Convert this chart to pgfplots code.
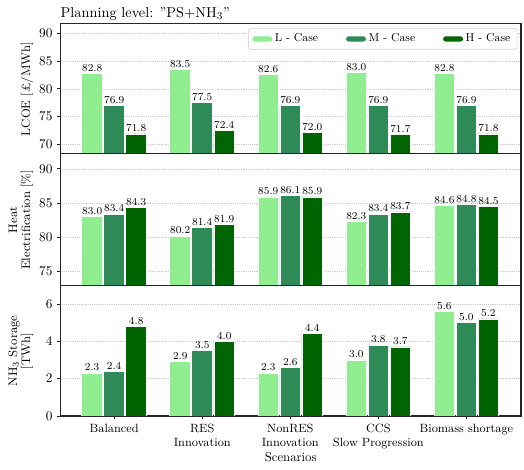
\documentclass[border=0pt]{standalone}
\usepackage{pgfplots}
\pgfplotsset{compat=1.18}
\definecolor{cL}{HTML}{90EE90}
\definecolor{cM}{HTML}{2E8B57}
\definecolor{cH}{HTML}{006400}
\begin{document}
\begin{tikzpicture}
\pgfplotsset{
  panel/.style={
    scale only axis, width=347pt,
    xmin=-0.61, xmax=4.62,
    ybar, bar width=0.235,
    axis line style={black!85, line width=0.9pt},
    tick style={black!85, line width=0.6pt},
    tick align=outside, major tick length=2.5pt,
    ytick pos=left,
    ymajorgrids, grid style={densely dotted, gray!40, line width=0.4pt},
    yticklabel style={font=\fontsize{10.3}{11}\selectfont},
    xticklabel style={font=\fontsize{9}{10.5}\selectfont},
    ylabel style={font=\fontsize{9.3}{9.8}\selectfont},
    xlabel style={font=\fontsize{9.6}{11}\selectfont},
    ylabel style={align=center, at={(axis description cs:-0.049,0.5)}, anchor=south, rotate=0},
    nodes near coords={\pgfmathprintnumber[fixed,fixed zerofill,precision=1]{\pgfplotspointmeta}},
    every node near coord/.append style={font=\fontsize{8.5}{9.5}\selectfont, inner sep=1.3pt, black},
    legend image code/.code={\fill[##1,draw=none] (0pt,-2pt) rectangle (15pt,2pt);},
  },
  Lbar/.style={fill=cL, draw=white, line width=0.6pt, bar shift=-0.25},
  Mbar/.style={fill=cM, draw=white, line width=0.6pt, bar shift=0},
  Hbar/.style={fill=cH, draw=white, line width=0.6pt, bar shift=0.25},
}
\begin{axis}[panel, name=top, height=98pt,
  ymin=68.2, ymax=91.8, ytick={70,75,80,85,90}, xtick=\empty,
  ylabel={LCOE [£/MWh]},
  title={Planning level: ''PS+NH$_3$''},
  title style={at={(axis description cs:0,1)}, anchor=south west, font=\fontsize{10.8}{12}\selectfont, inner xsep=0pt, yshift=-7pt},
  legend columns=3,
  legend style={at={(axis description cs:0.992,0.965)}, anchor=north east,
    draw=gray!40, rounded corners=2pt, fill=white,
    font=\fontsize{8.6}{10}\selectfont,
    /tikz/every even column/.append style={column sep=19pt}},
]
\addplot[Lbar] coordinates {(0,82.8) (1,83.5) (2,82.6) (3,83.0) (4,82.8)};
\addplot[Mbar] coordinates {(0,76.9) (1,77.5) (2,76.9) (3,76.9) (4,76.9)};
\addplot[Hbar] coordinates {(0,71.8) (1,72.4) (2,72.0) (3,71.7) (4,71.8)};
\legend{L - Case, M - Case, H - Case}
\end{axis}
\begin{axis}[panel, name=mid, at={(top.south west)}, anchor=north west, height=99.5pt,
  ymin=72.9, ymax=92.2, ytick={75,80,85,90}, xtick=\empty,
  ylabel={Heat\\Electrification [\%]},
]
\addplot[Lbar] coordinates {(0,83.0) (1,80.2) (2,85.9) (3,82.3) (4,84.6)};
\addplot[Mbar] coordinates {(0,83.4) (1,81.4) (2,86.1) (3,83.4) (4,84.8)};
\addplot[Hbar] coordinates {(0,84.3) (1,81.9) (2,85.9) (3,83.7) (4,84.5)};
\end{axis}
\begin{axis}[panel, name=bot, at={(mid.south west)}, anchor=north west, height=98pt,
  ymin=0, ymax=6.97, ytick={0,2,4,6},
  xtick={0,1,2,3,4}, xtick pos=bottom,
  xticklabels={Balanced, RES\\Innovation, NonRES\\Innovation, CCS\\Slow Progression, Biomass shortage},
  xticklabel style={align=center},
  ylabel={NH$_3$ Storage\\{[TWh]}},
  xlabel={Scenarios},
  xlabel style={yshift=4pt},
]
\addplot[Lbar] coordinates {(0,2.3) (1,2.9) (2,2.3) (3,3.0) (4,5.6)};
\addplot[Mbar] coordinates {(0,2.4) (1,3.5) (2,2.6) (3,3.8) (4,5.0)};
\addplot[Hbar] coordinates {(0,4.8) (1,4.0) (2,4.4) (3,3.7) (4,5.2)};
\end{axis}
\path ([shift={(-3pt,-2.5pt)}]current bounding box.south west) rectangle ([shift={(1.8pt,2.2pt)}]current bounding box.north east);
\end{tikzpicture}
\end{document}
